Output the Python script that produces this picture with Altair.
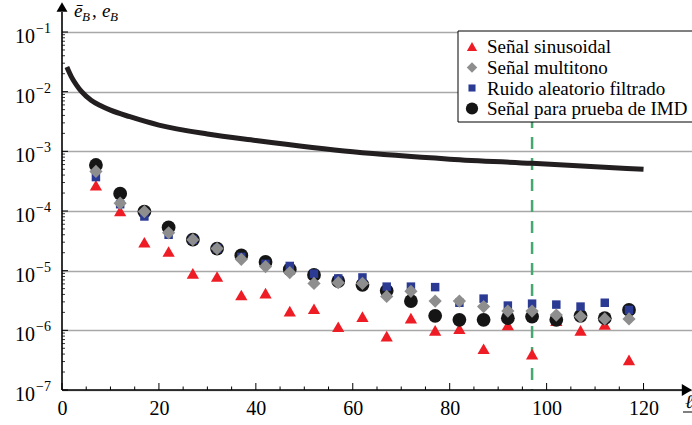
import altair as alt
import pandas as pd

# Block length ℓ (x) for the four test signals
ell = [7, 12, 17, 22, 27, 32, 37, 42, 47, 52, 57, 62, 67, 72, 77, 82, 87, 92, 97, 102, 107, 112, 117]

series_names = ["Señal sinusoidal", "Señal multitono", "Ruido aleatorio filtrado", "Señal para prueba de IMD"]
series_colors = ["#ee1c25", "#8e8e8e", "#2b3a93", "#151515"]
series_shapes = ["triangle-up", "diamond", "square", "circle"]
series_sizes = [150, 175, 72, 190]
legend_sizes = [105, 110, 50, 150]
draw_rank = [0, 3, 2, 1]

e_sin = [2.7e-4, 1.0e-4, 3.0e-5, 2.1e-5, 9.0e-6, 8.0e-6, 3.9e-6, 4.2e-6, 2.1e-6, 2.3e-6, 1.15e-6, 1.7e-6,
         8.0e-7, 1.6e-6, 1.0e-6, 1.07e-6, 4.9e-7, 1.23e-6, 4.0e-7, 1.45e-6, 1.0e-6, 1.25e-6, 3.2e-7]
e_multi = [4.6e-4, 1.35e-4, 9.8e-5, 4.3e-5, 3.3e-5, 2.35e-5, 1.55e-5, 1.17e-5, 9.3e-6, 6.1e-6, 6.3e-6, 6.1e-6,
           3.7e-6, 4.5e-6, 3.1e-6, 3.1e-6, 2.5e-6, 2.1e-6, 2.1e-6, 1.8e-6, 1.7e-6, 1.55e-6, 1.55e-6]
e_noise = [3.7e-4, 1.3e-4, 8.1e-5, 4.0e-5, 3.3e-5, 2.35e-5, 1.7e-5, 1.3e-5, 1.2e-5, 8.9e-6, 7.4e-6, 7.7e-6,
           5.4e-6, 5.4e-6, 5.3e-6, 2.9e-6, 3.4e-6, 2.6e-6, 2.8e-6, 2.7e-6, 2.5e-6, 2.9e-6, 2.2e-6]
e_imd = [5.9e-4, 1.95e-4, 9.8e-5, 5.3e-5, 3.3e-5, 2.35e-5, 1.8e-5, 1.4e-5, 1.05e-5, 8.5e-6, 6.7e-6, 5.8e-6,
         4.6e-6, 3.1e-6, 1.75e-6, 1.5e-6, 1.5e-6, 1.6e-6, 1.7e-6, 1.5e-6, 1.75e-6, 1.6e-6, 2.2e-6]

# Bound curve ē_B(ℓ)
bound_ell = [1, 2, 3, 4, 6, 8, 10, 14, 20, 30, 40, 60, 80, 97, 120]
bound_val = [0.026, 0.0174, 0.0129, 0.0101, 0.0072, 0.0058, 0.0049, 0.0038, 0.00275, 0.00195, 0.00152,
             0.00098, 0.00074, 0.00063, 0.0005]

marker_ell = [97]

# Axis ticks
x_label_ticks = [0, 20, 40, 60, 80, 100, 120]
x_minor_ticks = [5, 10, 15, 25, 30, 35, 45, 50, 55, 65, 70, 75, 85, 90, 95, 105, 110, 115]
decades = [1e-7, 1e-6, 1e-5, 1e-4, 1e-3, 1e-2, 1e-1]
decade_exps = ["−7", "−6", "−5", "−4", "−3", "−2", "−1"]
y_minor_ticks = [m * d for d in decades[:-1] for m in range(2, 10)]

FONT = "Liberation Serif"
W, H = 630, 358

rows = []
for name, vals, rank in zip(series_names, [e_sin, e_multi, e_noise, e_imd], draw_rank):
    for l, v in zip(ell, vals):
        rows.append({"ell": l, "err": v, "serie": name, "rank": rank})
points_df = pd.DataFrame(rows)

xs = alt.Scale(domain=[0, 130], nice=False, zero=False)
ys = alt.Scale(type="log", domain=[1e-7, 1e-1], nice=False)

points = alt.Chart(points_df).mark_point(filled=True, opacity=1, strokeWidth=0).encode(
    x=alt.X("ell:Q", scale=xs, axis=alt.Axis(values=x_label_ticks, labelFont=FONT, labelFontSize=20,
                                             labelColor="black", tickSize=0, domain=False, grid=False,
                                             labelPadding=8, title=None, labelFlush=False)),
    y=alt.Y("err:Q", scale=ys, axis=alt.Axis(values=decades, labels=False, ticks=False, domain=False,
                                             grid=True, gridColor="#a8a8a8", gridWidth=1.3, title=None)),
    color=alt.Color("serie:N", scale=alt.Scale(domain=series_names, range=series_colors), legend=None),
    shape=alt.Shape("serie:N", scale=alt.Scale(domain=series_names, range=series_shapes), legend=None),
    size=alt.Size("serie:N", scale=alt.Scale(type="ordinal", domain=series_names, range=series_sizes),
                  legend=None),
    order=alt.Order("rank:Q"),
)

marker = alt.Chart(pd.DataFrame({"ell": marker_ell})).mark_rule(
    color="#45a86e", strokeWidth=2.5, strokeDash=[12, 9]
).encode(x=alt.X("ell:Q", scale=xs), y=alt.value(0), y2=alt.value(H))

bound = alt.Chart(pd.DataFrame({"ell": bound_ell, "val": bound_val})).mark_line(
    color="#231f20", strokeWidth=5, interpolate="monotone"
).encode(x=alt.X("ell:Q", scale=xs), y=alt.Y("val:Q", scale=ys))

one = pd.DataFrame({"a": [0]})

# Axis lines, arrowheads and inward ticks
x_line = alt.Chart(one).mark_rule(color="black", strokeWidth=1.6).encode(
    x=alt.value(0), x2=alt.value(622), y=alt.value(H))
y_line = alt.Chart(one).mark_rule(color="black", strokeWidth=1.6).encode(
    x=alt.value(0), y=alt.value(H), y2=alt.value(-20))
y_arrow = alt.Chart(one).mark_point(shape="triangle-up", filled=True, opacity=1, color="black", size=121).encode(
    x=alt.value(0), y=alt.value(-25))
x_arrow = alt.Chart(one).mark_point(shape="triangle-right", filled=True, opacity=1, color="black", size=144).encode(
    x=alt.value(625), y=alt.value(H))

x_major = alt.Chart(pd.DataFrame({"v": x_label_ticks})).mark_rule(color="black", strokeWidth=1).encode(
    x=alt.X("v:Q", scale=xs), y=alt.value(H), y2=alt.value(H - 7))
x_minor = alt.Chart(pd.DataFrame({"v": x_minor_ticks})).mark_rule(color="black", strokeWidth=1).encode(
    x=alt.X("v:Q", scale=xs), y=alt.value(H), y2=alt.value(H - 3.5))
y_major = alt.Chart(pd.DataFrame({"v": decades})).mark_rule(color="black", strokeWidth=1).encode(
    y=alt.Y("v:Q", scale=ys), x=alt.value(0), x2=alt.value(6))
y_minor = alt.Chart(pd.DataFrame({"v": y_minor_ticks})).mark_rule(color="black", strokeWidth=0.8).encode(
    y=alt.Y("v:Q", scale=ys), x=alt.value(0), x2=alt.value(3))

# Decade labels 10^n
dec_df = pd.DataFrame({"v": decades, "e": decade_exps})
y_base = alt.Chart(dec_df).mark_text(font=FONT, fontSize=20, align="right", baseline="alphabetic",
                                     dy=11, color="black").encode(
    y=alt.Y("v:Q", scale=ys), x=alt.value(-27), text=alt.value("10"))
y_exp = alt.Chart(dec_df).mark_text(font=FONT, fontSize=14, align="left", baseline="alphabetic",
                                    dy=1, color="black").encode(
    y=alt.Y("v:Q", scale=ys), x=alt.value(-26), text="e:N")


def piece(txt, x, y, size, italic=True):
    return alt.Chart(one).mark_text(font=FONT, fontSize=size, fontStyle="italic" if italic else "normal",
                                    align="left", baseline="alphabetic", color="black").encode(
        x=alt.value(x), y=alt.value(y), text=alt.value(txt))


# Axis titles: ē_B, e_B and ℓ
title_pieces = [
    piece("ē", 12, -15, 19),
    piece("B", 20, -11, 13),
    piece(",", 30, -15, 19, italic=False),
    piece("e", 40, -15, 19),
    piece("B", 48, -11, 13),
    piece("ℓ", 623, 376, 19),
]
ell_under = alt.Chart(one).mark_rule(color="black", strokeWidth=1).encode(
    x=alt.value(621), x2=alt.value(631), y=alt.value(380))

# Legend box with one symbol and label per series
legend_box = alt.Chart(one).mark_rect(fill="white", stroke="black", strokeWidth=1).encode(
    x=alt.value(396), x2=alt.value(631), y=alt.value(-1), y2=alt.value(90))
legend_layers = [legend_box]
row_y = [14.5, 35.5, 56, 76.5]
for name, col, shp, sz, ry in zip(series_names, series_colors, series_shapes, legend_sizes, row_y):
    legend_layers.append(
        alt.Chart(one).mark_point(shape=shp, filled=True, opacity=1, color=col, size=sz, strokeWidth=0).encode(
            x=alt.value(410), y=alt.value(ry)))
    legend_layers.append(
        alt.Chart(one).mark_text(font=FONT, fontSize=19, align="left", baseline="alphabetic", color="black").encode(
            x=alt.value(425), y=alt.value(ry + 6.5), text=alt.value(name)))

chart = alt.layer(
    marker, bound, points,
    x_major, x_minor, y_major, y_minor, x_line, y_line, y_arrow, x_arrow,
    y_base, y_exp, ell_under, *title_pieces, *legend_layers,
).properties(
    width=W, height=H,
    padding={"left": 62, "top": 32, "right": 0, "bottom": 35},
    autosize=alt.AutoSizeParams(type="none"),
    background="white",
).configure_view(stroke=None)

chart.save("out.html", embed_options={"renderer": "svg", "actions": False})
